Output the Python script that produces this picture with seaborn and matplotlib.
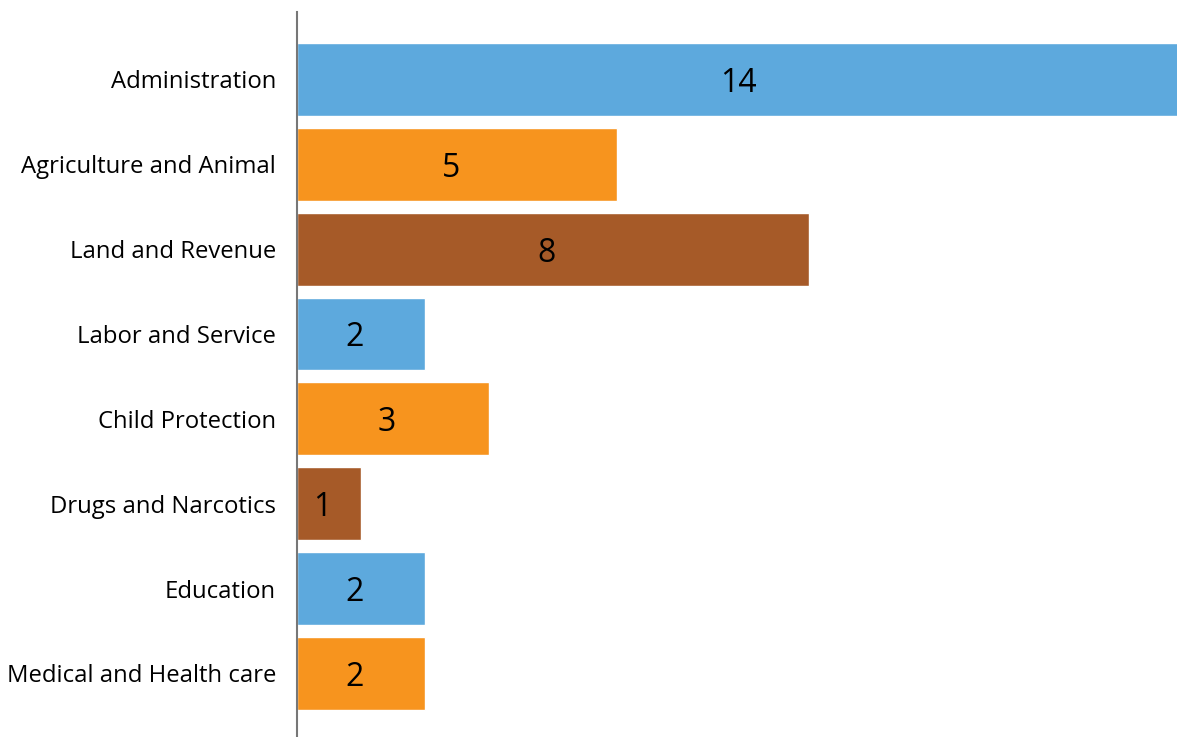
import matplotlib
matplotlib.use("Agg")
import matplotlib.pyplot as plt
import seaborn as sns
import pandas as pd

categories = ["Administration", "Agriculture and Animal", "Land and Revenue",
              "Labor and Service", "Child Protection", "Drugs and Narcotics",
              "Education", "Medical and Health care"]
values = [14, 5, 8, 2, 3, 1, 2, 2]
colors = ["#5DA9DD", "#F7941E", "#A65A28", "#5DA9DD", "#F7941E", "#A65A28",
          "#5DA9DD", "#F7941E"]

df = pd.DataFrame({"category": categories, "value": values})

sns.set_style("white")
plt.rcParams["font.family"] = ["Open Sans", "DejaVu Sans"]

fig = plt.figure(figsize=(11.77, 7.37), dpi=100)
ax = fig.add_axes([297/1177, 0.0, 1 - 297/1177, 1 - 12/737])

sns.barplot(data=df, x="value", y="category", hue="category",
            palette=colors, order=categories, hue_order=categories,
            width=0.86, legend=False, ax=ax, saturation=1, orient="h")

for i, v in enumerate(values):
    ax.text(v / 2 - 0.1, i, str(v), ha="center", va="center_baseline",
            fontsize=23, color="black")

ax.set_xlim(0, 880 / 64)
ax.set_ylim(7.75, -0.795)
ax.set_xlabel("")
ax.set_ylabel("")
ax.set_xticks([])
ax.tick_params(axis="y", length=0, pad=15, labelsize=17.2, labelcolor="black")
for lbl in ax.get_yticklabels():
    lbl.set_verticalalignment("center_baseline")
for s in ["top", "right", "bottom"]:
    ax.spines[s].set_visible(False)
ax.spines["left"].set_color("#777777")
ax.spines["left"].set_linewidth(1.5)

fig.savefig("out.png", dpi=100)
